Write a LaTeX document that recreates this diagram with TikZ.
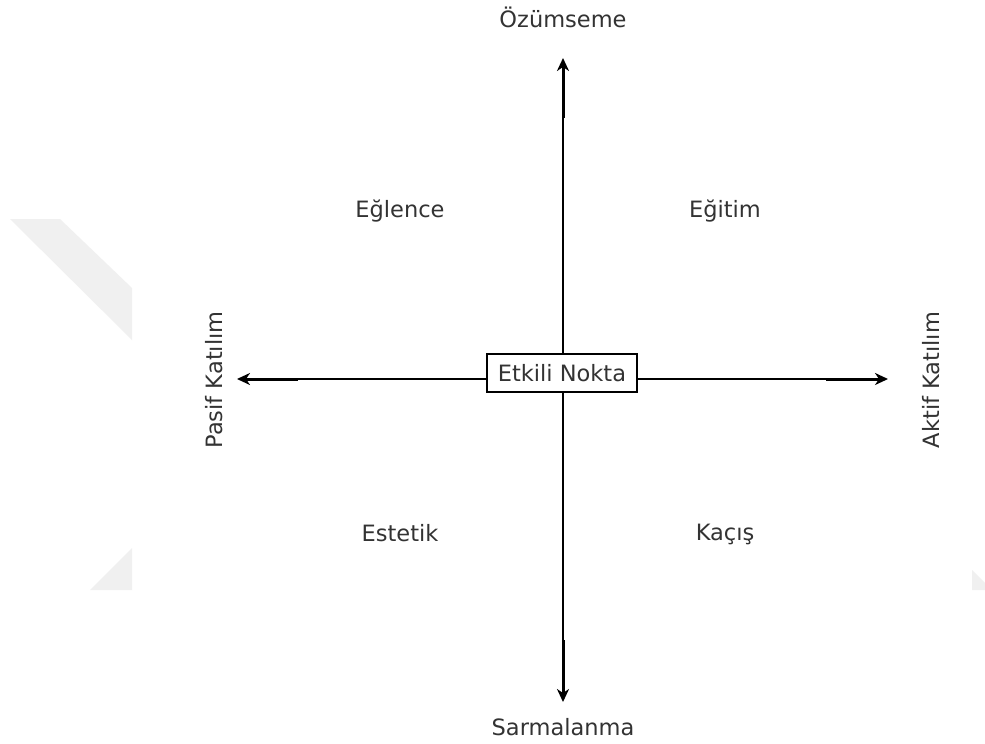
\documentclass[tikz,border=0pt]{standalone}
\usepackage{fontspec}
\setmainfont{DejaVu Sans}
\usetikzlibrary{arrows.meta}
\definecolor{txt}{HTML}{333333}
\definecolor{wm}{HTML}{F0F0F0}
\tikzset{
  lbl/.style={text=txt, font=\fontsize{22.5}{27}\selectfont, inner sep=0pt},
  axisthin/.style={line width=2pt, black},
  axisthick/.style={line width=3pt, black, -{Stealth[length=13pt,width=12pt,inset=4pt]}},
  centerbox/.style={draw=black, line width=2.2pt, fill=white, text=txt,
    font=\fontsize{22.5}{27}\selectfont, minimum width=150pt, minimum height=38pt, inner sep=0pt},
  wmark/.style={fill=wm, draw=none}
}
\begin{document}
\begin{tikzpicture}[x=1pt,y=-1pt]
\useasboundingbox (0,0) rectangle (985,744);
\fill[white] (0,0) rectangle (985,744);
% faint watermark fragments
\fill[wmark] (10,219) -- (60,219) -- (132,288) -- (132,340) -- cycle;
\fill[wmark] (90,590) -- (132,548) -- (132,590) -- cycle;
\fill[wmark] (972,570) -- (985,583) -- (985,590) -- (972,590) -- cycle;

% axis coordinates
\coordinate (top) at (563,58);
\coordinate (topstub) at (563,118);
\coordinate (bot) at (563,702);
\coordinate (botstub) at (563,640);
\coordinate (left) at (237,379);
\coordinate (leftstub) at (298,379);
\coordinate (right) at (888,379);
\coordinate (rightstub) at (826,379);

% axes
\draw[axisthin] (topstub) -- (botstub);
\draw[axisthin] (leftstub) -- (rightstub);
\draw[axisthick] (topstub) -- (top);
\draw[axisthick] (botstub) -- (bot);
\draw[axisthick] (leftstub) -- (left);
\draw[axisthick] (rightstub) -- (right);

% center box
\node[centerbox] (etkili) at (562,373) {Etkili Nokta};

% axis labels
\node[lbl] (ozum) at (563,17) {Özümseme};
\node[lbl] (sarm) at (563,727) {Sarmalanma};
\node[lbl, rotate=90] (pasif) at (214,380) {Pasif Katılım};
\node[lbl, rotate=90] (aktif) at (931,380) {Aktif Katılım};

% quadrant labels
\node[lbl] (eglence) at (400,211) {Eğlence};
\node[lbl] (egitim) at (725,211) {Eğitim};
\node[lbl] (estetik) at (400,533) {Estetik};
\node[lbl] (kacis) at (725,534) {Kaçış};
\end{tikzpicture}
\end{document}
